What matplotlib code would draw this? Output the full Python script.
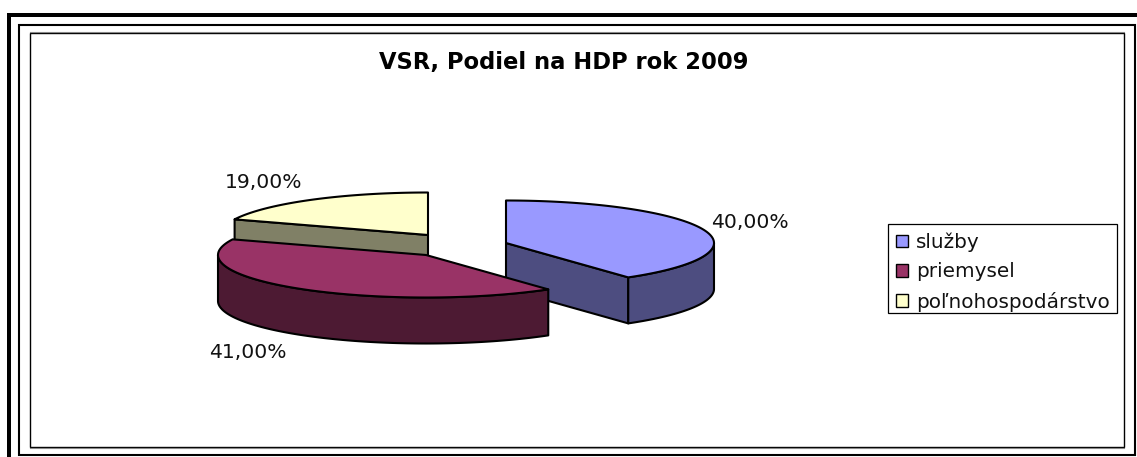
import numpy as np
import matplotlib
matplotlib.use("Agg")
import matplotlib.pyplot as plt
from matplotlib.patches import Polygon, Rectangle, Patch

# Data
categories = ["služby", "priemysel", "poľnohospodárstvo"]
values = [40.0, 41.0, 19.0]
value_labels = ["40,00%", "41,00%", "19,00%"]

# Styles
top_colors = ["#9999FF", "#993366", "#FFFFCC"]
side_colors = ["#4D4D80", "#4D1A33", "#808066"]
FONT = "DejaVu Sans"

W, H = 1137, 457
fig = plt.figure(figsize=(W / 100, H / 100), dpi=100)
ax = fig.add_axes([0, 0, 1, 1])
ax.set_xlim(0, W)
ax.set_ylim(H, 0)
ax.axis("off")

# Nested frames
ax.add_patch(Rectangle((7, 13), 4, H, fc="black", ec="none"))
ax.add_patch(Rectangle((7, 13), W, 4, fc="black", ec="none"))
ax.add_patch(Rectangle((19, 25), 1116, 430, fc="none", ec="black", lw=1.5))
ax.add_patch(Rectangle((29.5, 33), 1094, 414, fc="white", ec="black", lw=1.0))
ax.plot([30, 1124], [32.3, 32.3], color="#888888", lw=0.8)
ax.plot([30, 1124], [448, 448], color="#888888", lw=0.8)

# Exploded 3D pie projected from the values
RX, RY, DEPTH = 208, 42.5, 46
PIE_X, PIE_Y = 427, 255
slice_offsets = [(79, -12), (-1, 0), (1, -20)]
LW = 1.5


def rim(cx, cy, a0, a1):
    t = np.radians(np.linspace(a0, a1, max(2, int(abs(a1 - a0)) + 1)))
    return np.column_stack([cx + RX * np.sin(t), cy - RY * np.cos(t)])


edges = np.cumsum([0.0] + values) / sum(values) * 360
spans = list(zip(edges[:-1], edges[1:]))
down = np.array([0, DEPTH])


def draw_slice(i):
    a0, a1 = spans[i]
    cx = PIE_X + slice_offsets[i][0]
    cy = PIE_Y + slice_offsets[i][1]
    centre = np.array([cx, cy], dtype=float)
    # cut faces that look toward the viewer
    for a in (a0, a1):
        s, c = np.sin(np.radians(a)), np.cos(np.radians(a))
        visible = (a == a1 and c < 0 and s > 0) or (a == a0 and s < 0 and c > 0)
        if visible:
            p = rim(cx, cy, a, a)[0]
            ax.add_patch(Polygon([centre, p, p + down, centre + down],
                                 fc=side_colors[i], ec="black", lw=LW, joinstyle="round"))
    # outer wall on the front half
    lo, hi = max(a0, 90), min(a1, 270)
    if lo < hi:
        r = rim(cx, cy, lo, hi)
        ax.add_patch(Polygon(np.vstack([r, r[::-1] + down]),
                             fc=side_colors[i], ec="black", lw=LW, joinstyle="round"))
    # top surface
    ax.add_patch(Polygon(np.vstack([[centre], rim(cx, cy, a0, a1)]),
                         fc=top_colors[i], ec="black", lw=LW, joinstyle="round"))


for i in (2, 0, 1):
    draw_slice(i)

# Text
text_col = "#111111"
ax.text(563.5, 62, "VSR, Podiel na HDP rok 2009", ha="center", va="center",
        family=FONT, weight="bold", fontsize=16.3, color="black")
label_pos = [(749.5, 223), (247.5, 352), (264, 183)]
for s, (x, y) in zip(value_labels, label_pos):
    ax.text(x, y, s, ha="center", va="center", family=FONT, fontsize=14.6, color=text_col)

# Legend
ax.add_patch(Rectangle((887.5, 224), 229, 89, fc="white", ec="black", lw=0.9))
handles = [Patch(fc=c, ec="black", lw=1.0) for c in top_colors]
leg = ax.legend(handles, categories, loc="upper left",
                bbox_to_anchor=(896 / W, 1 - 232.5 / H), bbox_transform=fig.transFigure,
                borderaxespad=0, frameon=False, prop={"family": FONT, "size": 14.4},
                handlelength=0.6, handleheight=0.6, handletextpad=0.42,
                labelspacing=0.52, borderpad=0)
for t in leg.get_texts():
    t.set_color(text_col)

fig.savefig("out.png", dpi=100)
